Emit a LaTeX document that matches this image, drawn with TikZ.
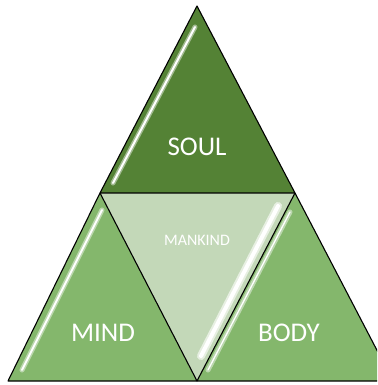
\documentclass[tikz,border=0pt]{standalone}
\usepackage{fontspec}
\setmainfont{Carlito}
\definecolor{soulgreen}{HTML}{548235}
\definecolor{midgreen}{HTML}{84B76C}
\definecolor{palegreen}{HTML}{C3D8B8}
\tikzset{
  tri/.style={draw=black, line width=1.1pt, line join=round},
  glow/.style={white, opacity=0.45, line width=5pt, line cap=round},
  shine/.style={white, line width=2pt, line cap=round},
  lbl/.style={text=white, font=\fontsize{27}{27}\selectfont, inner sep=0pt},
  smalllbl/.style={text=white, font=\fontsize{16}{16}\selectfont, inner sep=0pt},
}
\begin{document}
\begin{tikzpicture}[x=1pt,y=-1pt]
\useasboundingbox (0,0) rectangle (377,385);
\clip (0,0) rectangle (377,385);
% vertices
\coordinate (apex) at (197,6);
\coordinate (ml) at (100,193);
\coordinate (mr) at (295,193);
\coordinate (bl) at (8,381);
\coordinate (bm) at (197,381);
\coordinate (br) at (393,381);
% fills
\fill[soulgreen] (apex) -- (ml) -- (mr) -- cycle;
\fill[midgreen] (ml) -- (bl) -- (bm) -- cycle;
\fill[midgreen] (mr) -- (bm) -- (br) -- cycle;
\fill[palegreen] (ml) -- (mr) -- (bm) -- cycle;
% highlights
\draw[glow] (195,27) -- (113,183);
\draw[shine] (195,27) -- (113,183);
\draw[glow] (102,210) -- (22,370);
\draw[shine] (102,210) -- (22,370);
\draw[glow] (290,212) -- (208,370);
\draw[white, line width=1.3pt, line cap=round] (290,212) -- (208,370);
\draw[white, opacity=0.6, line width=8pt, line cap=round] (278,206) -- (201,356);
\draw[white, line width=4pt, line cap=round] (278,206) -- (201,356);
% outlines
\draw[tri] (apex) -- (ml) -- (mr) -- cycle;
\draw[tri] (ml) -- (bl) -- (bm) -- cycle;
\draw[tri] (mr) -- (bm) -- (br) -- cycle;
% labels
\node[lbl] (soul) at (197,147) {SOUL};
\node[smalllbl] (mankind) at (197,240) {MANKIND};
\node[lbl] (mind) at (103,333) {MIND};
\node[lbl] (body) at (289,333) {BODY};
\end{tikzpicture}
\end{document}
